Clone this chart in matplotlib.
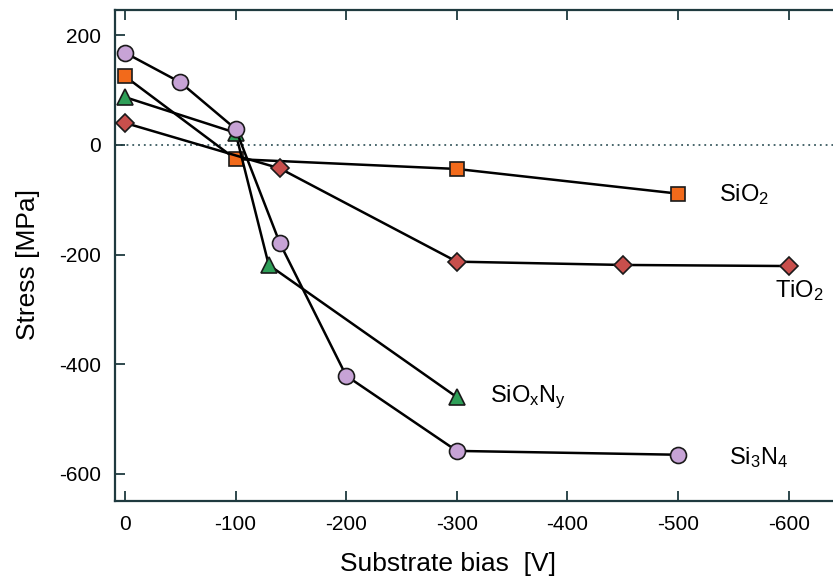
import matplotlib
matplotlib.use("Agg")
import matplotlib.pyplot as plt

plt.rcParams["font.family"] = ["Liberation Sans", "DejaVu Sans"]
plt.rcParams["mathtext.fontset"] = "custom"
plt.rcParams["mathtext.rm"] = "Liberation Sans"
plt.rcParams["mathtext.it"] = "Liberation Sans"

# data
sio2_x = [0, -100, -300, -500]
sio2_y = [125, -26, -44, -89]
tio2_x = [0, -140, -300, -450, -600]
tio2_y = [40, -43, -213, -219, -221]
sioxny_x = [0, -100, -130, -300]
sioxny_y = [87, 22, -219, -460]
si3n4_x = [0, -50, -100, -140, -200, -300, -500]
si3n4_y = [168, 114, 29, -179, -421, -558, -565]

x_ticks = [0, -100, -200, -300, -400, -500, -600]
y_ticks = [200, 0, -200, -400, -600]

spine_col = "#1f3a3f"

fig = plt.figure(figsize=(8.33, 5.81), dpi=100)
ax = fig.add_axes([0.138, 0.138, 0.862, 0.845])

ax.axhline(0, color="#3a5a60", lw=1.3, ls=(0, (1, 2.2)), zorder=1)

common = dict(color="black", lw=1.8, markeredgecolor="#1a1a1a", markeredgewidth=1.2, zorder=3)
ax.plot(sio2_x, sio2_y, marker="s", ms=10, markerfacecolor="#f26a1b", **common)
ax.plot(tio2_x, tio2_y, marker="D", ms=9, markerfacecolor="#c84f4c", **common)
ax.plot(sioxny_x, sioxny_y, marker="^", ms=11, markerfacecolor="#2f9f58", **common)
ax.plot(si3n4_x, si3n4_y, marker="o", ms=11.5, markerfacecolor="#c7a3d6", **common)

ax.set_xlim(9, -640)
ax.set_ylim(-649, 246)
ax.set_xticks(x_ticks)
ax.set_xticklabels([str(v) for v in x_ticks])
ax.set_yticks(y_ticks)
ax.set_yticklabels([str(v) for v in y_ticks])

ax.tick_params(axis="x", direction="in", top=True, bottom=True, length=7,
               width=1.3, labelsize=15, pad=10, color=spine_col)
ax.tick_params(axis="y", direction="in", left=True, right=False, length=7,
               width=1.3, labelsize=15, pad=10, color=spine_col)

for side in ["left", "bottom", "top"]:
    ax.spines[side].set_color(spine_col)
    ax.spines[side].set_linewidth(1.6)
ax.spines["right"].set_visible(False)

ax.set_xlabel("Substrate bias  [V]", fontsize=19)
ax.set_ylabel("Stress [MPa]", fontsize=19)
ax.xaxis.set_label_coords(0.464, -0.105)
ax.yaxis.set_label_coords(-0.105, 0.482)

lab = dict(fontsize=17, va="center", ha="left")
ax.text(-537, -90, r"SiO$_2$", **lab)
ax.text(-588, -265, r"TiO$_2$", **lab)
ax.text(-330, -460, r"SiO$_x$N$_y$", **lab)
ax.text(-546, -570, r"Si$_3$N$_4$", **lab)

fig.savefig("out.png", dpi=100)
